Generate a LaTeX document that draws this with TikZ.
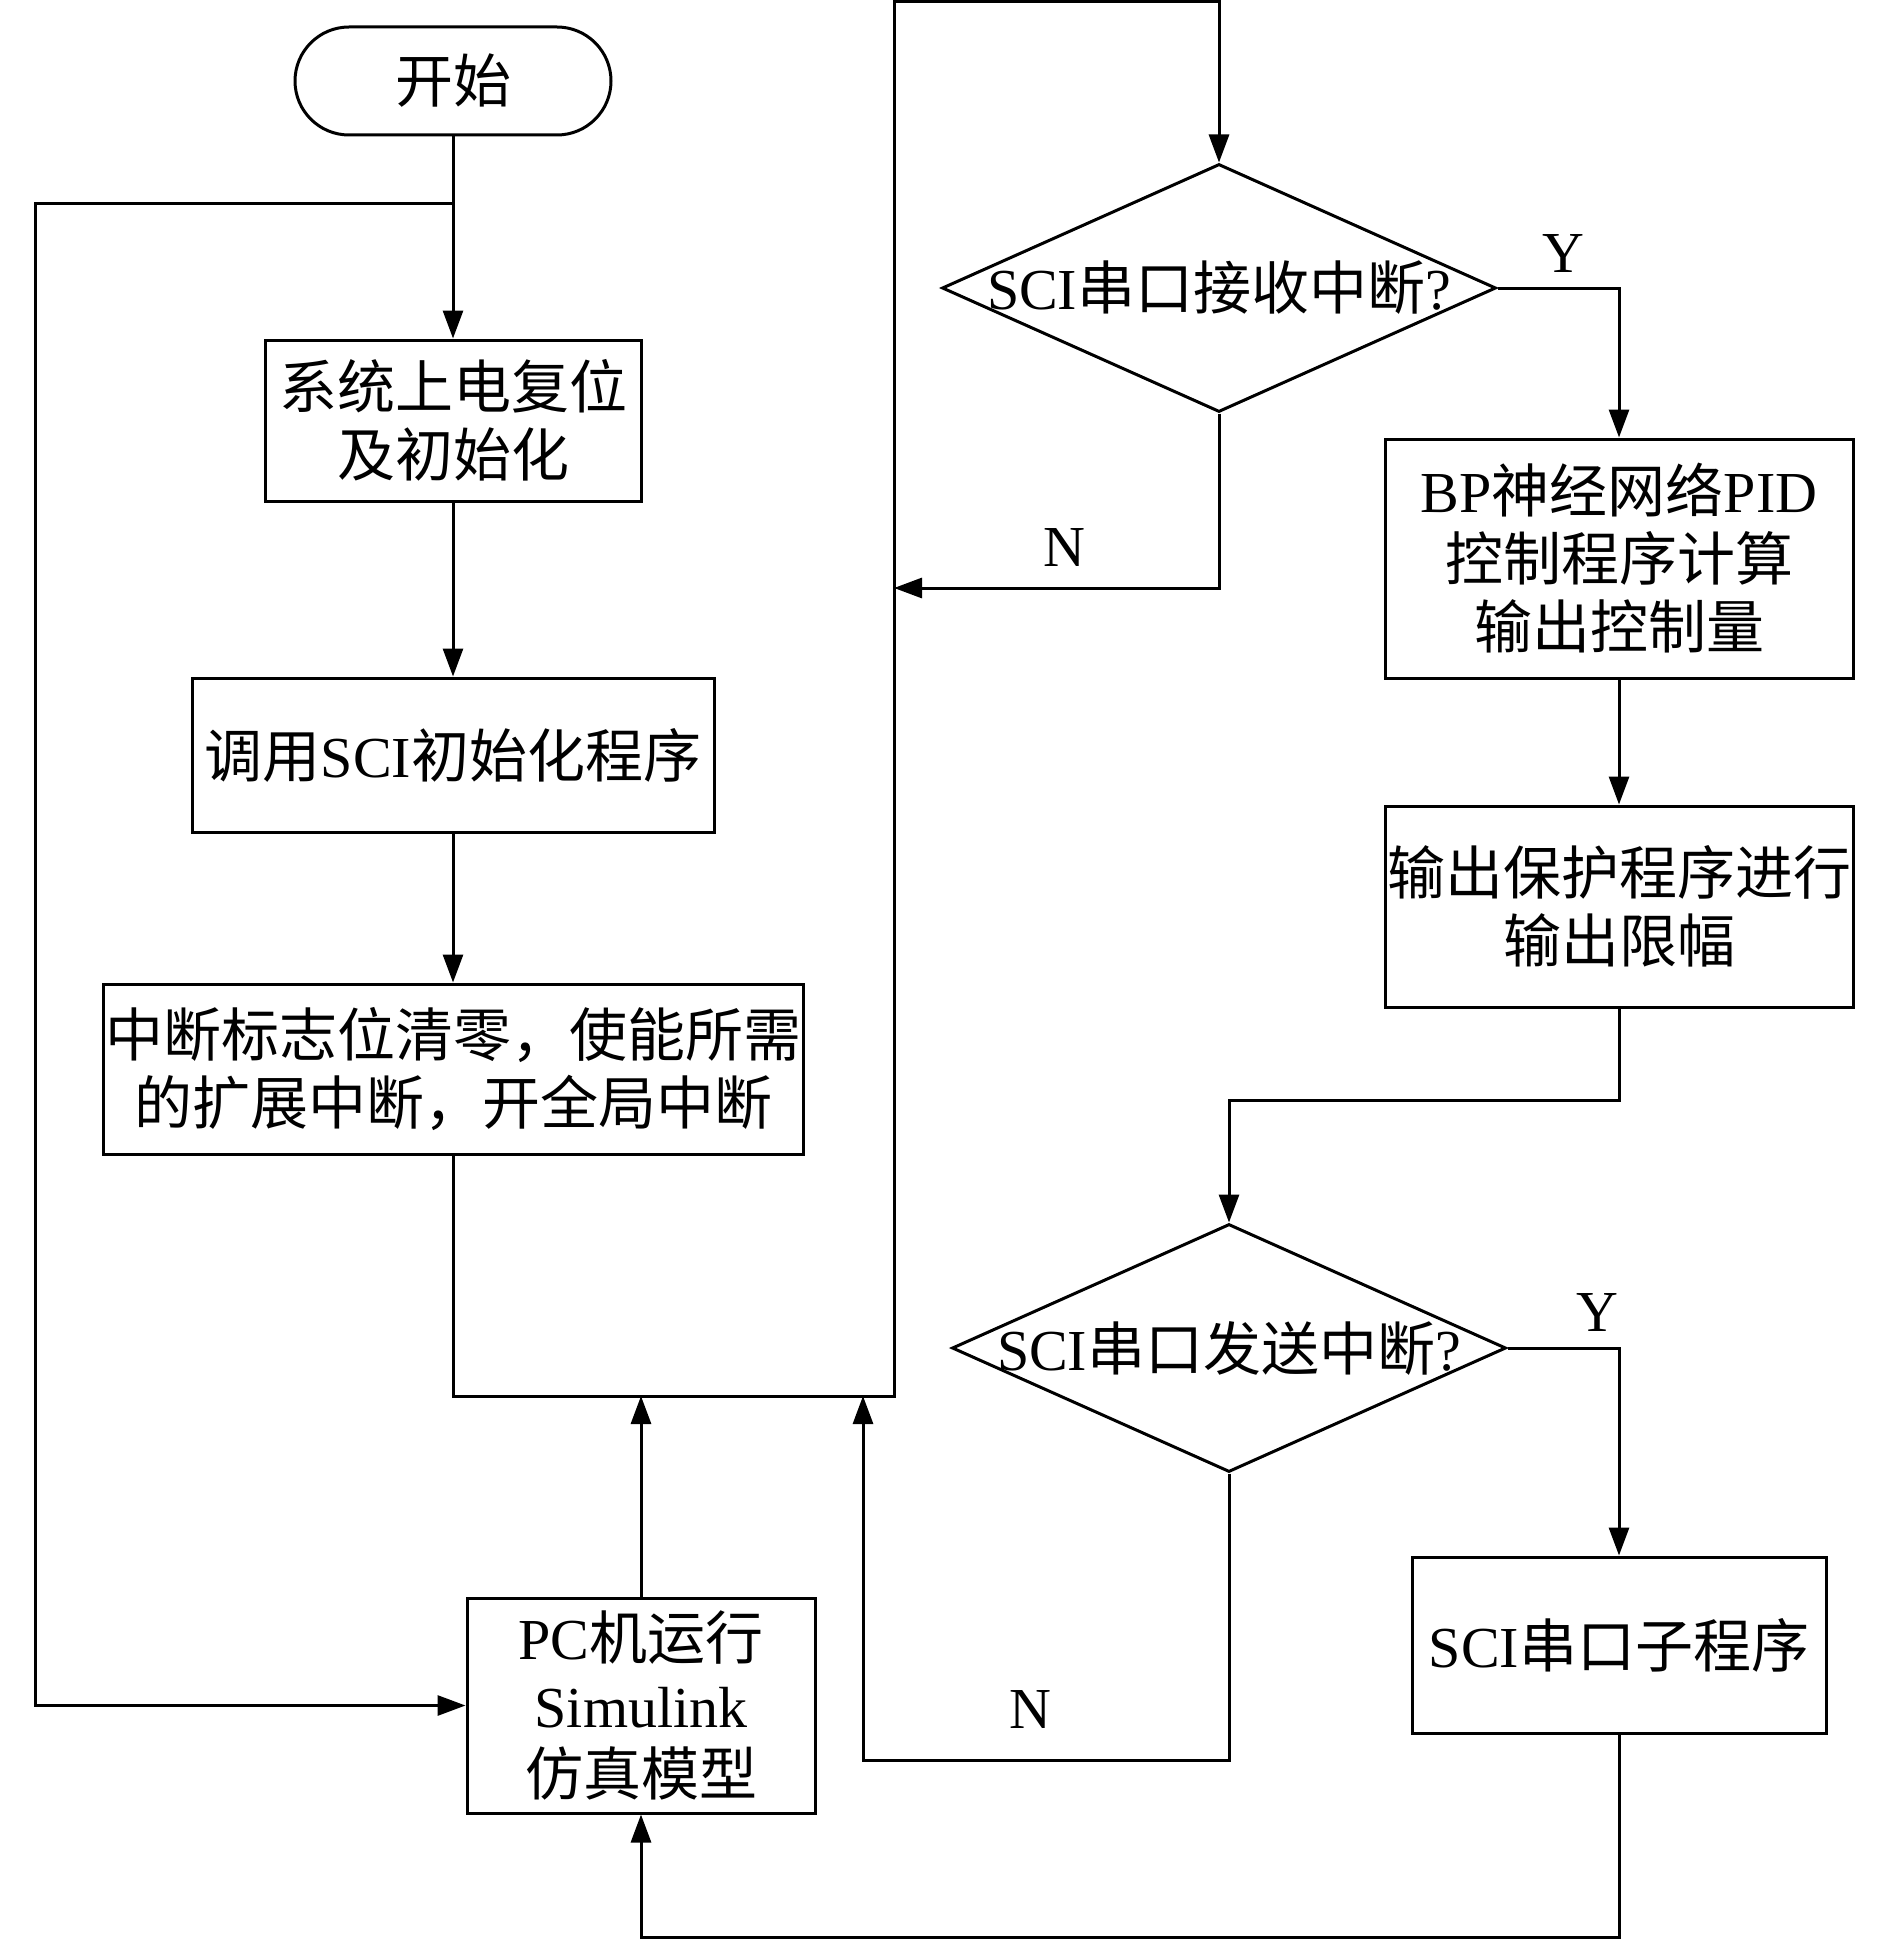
\documentclass[tikz,border=0pt]{standalone}
\usepackage{fontspec}
\setmainfont{Liberation Serif}
\newfontfamily\zh{Noto Sans CJK SC}
\usepackage{tikz}
\usetikzlibrary{arrows.meta, shapes}
\newcommand{\romn}[1]{{\rmfamily #1}}
\tikzset{
  box/.style={draw, line width=1.5pt, inner sep=0pt, align=center, font=\zh\fontsize{29}{34}\selectfont},
  decide/.style={draw, diamond, line width=1.5pt, inner sep=0pt, minimum width=277pt, minimum height=124pt, font=\zh\fontsize{29}{34}\selectfont},
  arr/.style={-{Triangle[length=14pt,width=10pt]}, line width=1.5pt},
  yn/.style={font=\fontsize{29}{34}\selectfont}
}

\begin{document}
\begin{tikzpicture}[x=0.5pt, y=-0.5pt]
\useasboundingbox (0,0) rectangle (1890,1942);
%left column
\node[box, rounded corners=27pt, minimum width=158pt, minimum height=54pt] (start) at (453,81) {开始};
\node[box, minimum width=188pt, minimum height=80.5pt] (init) at (453,420.5) {系统上电复位\\及初始化};
\node[box, minimum width=261pt, minimum height=77pt] (sciinit) at (453,755) {调用\romn{SCI}初始化程序};
\node[box, minimum width=350pt, minimum height=85pt] (intflag) at (453,1069) {中断标志位清零，使能所需\\的扩展中断，开全局中断};
\node[box, minimum width=174pt, minimum height=107.5pt] (pcsim) at (641,1705.5) {\romn{PC}机运行\\\romn{Simulink}\\仿真模型};
%right column
\node[decide] (rxint) at (1219,288) {\makebox[0pt]{\romn{SCI}串口接收中断\romn{?}}};
\node[box, minimum width=234pt, minimum height=119.5pt] (bppid) at (1619,558.5) {\romn{BP}神经网络\romn{PID}\\控制程序计算\\输出控制量};
\node[box, minimum width=234pt, minimum height=100.5pt] (limit) at (1619,906.5) {输出保护程序进行\\输出限幅};
\node[decide] (txint) at (1229,1348) {\makebox[0pt]{\romn{SCI}串口发送中断\romn{?}}};
\node[box, minimum width=207pt, minimum height=88pt] (scisub) at (1619,1645) {\romn{SCI}串口子程序};

\node[yn] (y1) at (1563,254) {Y};
\node[yn] (n1) at (1064,548) {N};
\node[yn] (y2) at (1597,1312) {Y};
\node[yn] (n2) at (1030,1709) {N};

\coordinate (j1) at (453,204);
\coordinate (lft) at (35,204);
\coordinate (ret) at (894,1396);
\coordinate (topl) at (894,2);
\coordinate (nin) at (894,588);
\coordinate (bend) at (1229,1100);
\coordinate (nb) at (863,1760);
\coordinate (nup) at (863,1396);
\coordinate (bot) at (641,1937);

\draw[arr] (start) -- (init);
\draw[arr] (j1) -- (lft) |- (pcsim.west);
\draw[arr] (init) -- (sciinit);
\draw[arr] (sciinit) -- (intflag);
\draw[arr] (intflag.south) |- (ret) -- (topl) -| (rxint.north);
\draw[arr] (pcsim.north) -- (pcsim.north |- ret);
\draw[arr] (rxint.east) -| (bppid.north);
\draw[arr] (rxint.south) |- (nin);
\draw[arr] (bppid) -- (limit);
\draw[arr] (limit.south) |- (bend) -- (txint.north);
\draw[arr] (txint.east) -| (scisub.north);
\draw[arr] (txint.south) |- (nb) -- (nup);
\draw[arr] (scisub.south) |- (bot) -- (pcsim.south);
\end{tikzpicture}
\end{document}
